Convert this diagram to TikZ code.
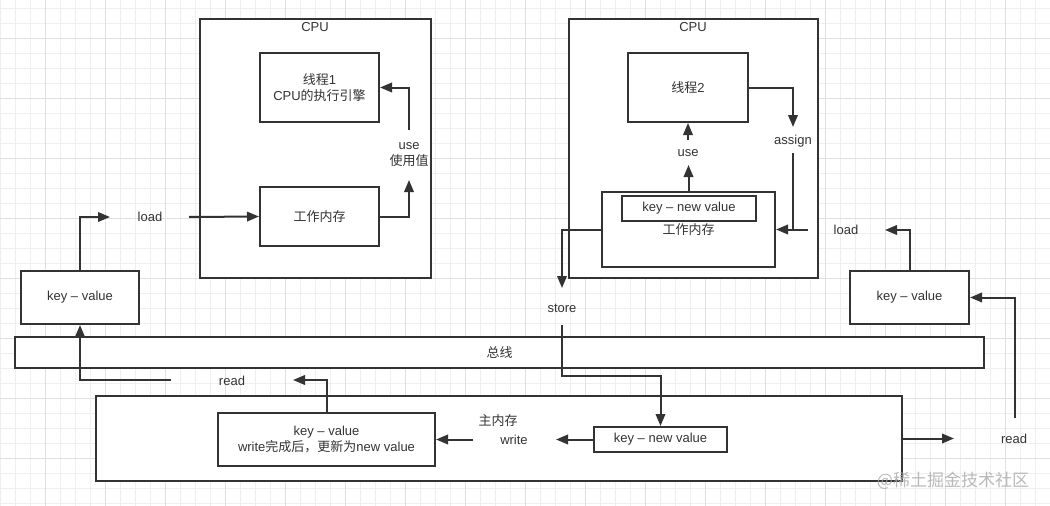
\documentclass[tikz,border=0pt]{standalone}
\usepackage{fontspec}
\setmainfont{Liberation Sans}
\newfontfamily\cjk{Noto Sans CJK SC}
\usetikzlibrary{arrows.meta}
\definecolor{ink}{HTML}{333333}
\definecolor{gminor}{HTML}{EFEFEF}
\definecolor{gmajor}{HTML}{E0E0E0}
\definecolor{wm}{HTML}{A8A8A8}
\tikzset{
  txt/.style={inner sep=0pt, text=ink, align=center, font=\fontsize{13}{16}\selectfont},
  box/.style={txt, draw=ink, fill=white, line width=2pt},
  ln/.style={draw=ink, line width=2pt},
  arr/.style={ln, -{Triangle[length=12pt,width=9.5pt]}},
}
\begin{document}
\begin{tikzpicture}[x=1pt,y=-1pt]
\useasboundingbox (0,0) rectangle (1050,506);
\fill[white] (0,0) rectangle (1050,506);
% grid
\foreach \x in {0,15,...,1050} \draw[gminor, line width=0.8pt] (\x,0) -- (\x,506);
\foreach \y in {8,23,...,506} \draw[gminor, line width=0.8pt] (0,\y) -- (1050,\y);
\foreach \x in {45,105,...,1050} \draw[gmajor, line width=0.9pt] (\x,0) -- (\x,506);
\foreach \y in {38,98,...,506} \draw[gmajor, line width=0.9pt] (0,\y) -- (1050,\y);

% CPU 1
\node[box, minimum width=231pt, minimum height=259pt] (cpu1) at (315.5,148.5) {};
\node[txt] (cpu1l) at (315,27) {CPU};
\node[box, minimum width=119pt, minimum height=69pt] (t1) at (319.5,87.5) {{\cjk 线程}1\\CPU{\cjk 的执行引擎}};
\node[box, minimum width=119pt, minimum height=59pt] (wm1) at (319.5,216.5) {\cjk 工作内存};

% CPU 2
\node[box, minimum width=249pt, minimum height=259pt] (cpu2) at (693.5,148.5) {};
\node[txt] (cpu2l) at (693,27) {CPU};
\node[box, minimum width=120pt, minimum height=69pt] (t2) at (688,87.5) {{\cjk 线程}2};
\node[box, minimum width=173pt, minimum height=75pt] (wm2) at (688.5,229.5) {\cjk 工作内存};
\node[box, minimum width=134pt, minimum height=25pt] (knv2) at (689,208.5) {key -- new value};

% side key-value boxes
\node[box, minimum width=118pt, minimum height=53pt] (kv1) at (80,297.5) {key -- value};
\node[box, minimum width=119pt, minimum height=53pt] (kv2) at (909.5,297.5) {key -- value};

% bus
\node[box, minimum width=969pt, minimum height=31pt] (bus) at (499.5,352.5) {\cjk 总线};

% main memory
\node[box, minimum width=806pt, minimum height=85pt] (mm) at (499,438.5) {};
\node[txt] (mml) at (498,421) {\cjk 主内存};
\node[box, minimum width=217pt, minimum height=53pt] (kvm) at (326.5,439.5) {key -- value\\write{\cjk 完成后，更新为}new value};
\node[box, minimum width=133pt, minimum height=25pt] (knv) at (660.5,439.5) {key -- new value};

% labels
\node[txt] (load1) at (150,217) {load};
\node[txt] (use1) at (409,155) {use\\{\cjk 使用值}};
\node[txt] (use2) at (688,153) {use};
\node[txt] (assign) at (793,141) {assign};
\node[txt] (load2) at (846,230) {load};
\node[txt] (store) at (562,308) {store};
\node[txt] (read1) at (232,381) {read};
\node[txt] (write) at (514,440) {write};
\node[txt] (read2) at (1014,439) {read};

% coordinates for free ends
\coordinate (c1) at (110,217);
\coordinate (c2) at (189,217);
\coordinate (c3) at (409,180);
\coordinate (c4) at (409,130);
\coordinate (c5) at (688.5,165);
\coordinate (c6) at (688,140);
\coordinate (c7) at (793,127);
\coordinate (c8) at (793,153);
\coordinate (c9) at (793,229.5);
\coordinate (c10) at (808,229.5);
\coordinate (c11) at (885,230);
\coordinate (c12) at (562,288);
\coordinate (c13) at (562,325);
\coordinate (c14) at (562,376);
\coordinate (c15) at (556,439.5);
\coordinate (c16) at (473,439.5);
\coordinate (c17) at (293,380);
\coordinate (c18) at (171,380);
\coordinate (c19) at (954,438.5);
\coordinate (c20) at (1015,418);

% connectors
\draw[arr] (kv1.north) |- (c1);
\draw[arr] (c2) -- (wm1.west);
\draw[arr] (wm1.east) -| (c3);
\draw[arr] (c4) |- (t1.east);
\draw[arr] (wm2.north) -- (c5);
\draw[arr] (c6) -- (t2.south);
\draw[arr] (t2.east) -| (c7);
\draw[ln] (c8) -- (c9);
\draw[arr] (c10) -- (wm2.east);
\draw[arr] (kv2.north) |- (c11);
\draw[arr] (wm2.west) -| (c12);
\draw[arr] (c13) -- (c14) -| (knv.north);
\draw[arr] (knv.west) -- (c15);
\draw[arr] (c16) -- (kvm.east);
\draw[arr] (kvm.north) |- (c17);
\draw[arr] (c18) -| (kv1.south);
\draw[arr] (mm.east) -- (c19);
\draw[arr] (c20) |- (kv2.east);

% watermark
\node[inner sep=0pt, text=wm, font=\cjk\fontsize{17}{17}\selectfont, opacity=0.8] (wmark) at (953,481) {@稀土掘金技术社区};
\end{tikzpicture}
\end{document}
